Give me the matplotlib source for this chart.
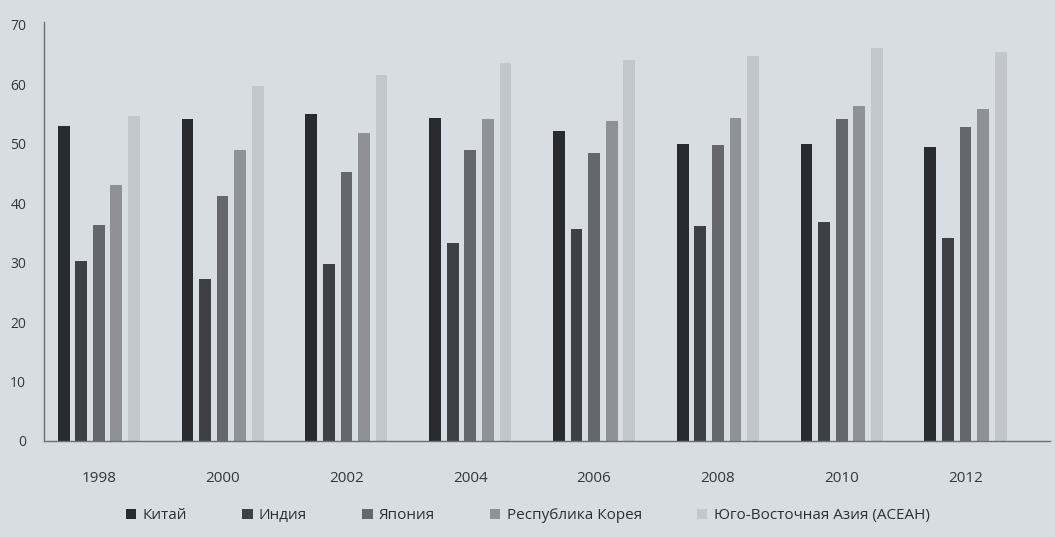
import numpy as np
import matplotlib.pyplot as plt
from matplotlib.patches import Patch

years = ["1998", "2000", "2002", "2004", "2006", "2008", "2010", "2012"]
series_names = ["Китай", "Индия", "Япония", "Республика Корея", "Юго-Восточная Азия (АСЕАН)"]

china = [53.0, 54.1, 55.0, 54.3, 52.1, 49.9, 49.9, 49.4]
india = [30.2, 27.3, 29.7, 33.3, 35.7, 36.1, 36.8, 34.2]
japan = [36.4, 41.3, 45.2, 49.0, 48.5, 49.8, 54.1, 52.9]
korea = [43.0, 48.9, 51.9, 54.2, 53.8, 54.4, 56.4, 55.8]
asean = [54.6, 59.7, 61.5, 63.6, 64.1, 64.8, 66.1, 65.5]

colors = ["#2a2b2f", "#3e4045", "#65676c", "#8f9196", "#c3c6cb"]
bg = "#d8dde4"

plt.rcParams["font.family"] = ["Open Sans", "DejaVu Sans"]

fig = plt.figure(figsize=(10.55, 5.37), dpi=100, facecolor=bg)
ax = fig.add_axes([0.042, 0.179, 0.953, 0.78], facecolor=bg)

x = np.arange(len(years))
step = 0.142
width = 0.095
all_series = [china, india, japan, korea, asean]
for i, (vals, col) in enumerate(zip(all_series, colors)):
    ax.bar(x + (i - 2) * step, vals, width, color=col, label=series_names[i])

ax.set_xlim(-0.44, 7.68)
ax.set_ylim(0, 70.5)
ax.set_yticks(range(0, 71, 10))
ax.set_xticks(x)
ax.set_xticklabels(years)

for side in ["top", "right"]:
    ax.spines[side].set_visible(False)
for side in ["left", "bottom"]:
    ax.spines[side].set_color("#6c6f74")
    ax.spines[side].set_linewidth(1.0)

ax.tick_params(axis="y", length=0, pad=13, labelsize=10, labelcolor="#35363a")
ax.tick_params(axis="x", length=0, pad=22, labelsize=11, labelcolor="#35363a")

handles = [Patch(facecolor=c, edgecolor="none") for c in colors]
fig.legend(handles, series_names, loc="lower center", bbox_to_anchor=(0.5, 0.0),
           ncol=5, frameon=False, fontsize=11, handlelength=0.7, handleheight=0.7,
           handletextpad=0.4, columnspacing=3.6, labelcolor="#2e2f33")

fig.savefig("out.png", dpi=100, facecolor=bg)
